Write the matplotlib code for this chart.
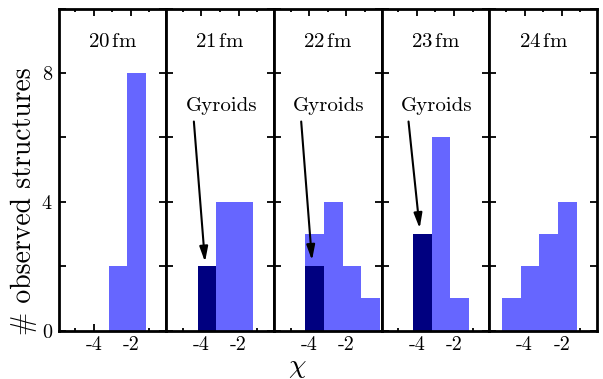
import matplotlib
matplotlib.use('Agg')
import matplotlib.pyplot as plt
import numpy as np

plt.rcParams['font.family'] = ['cmr10', 'DejaVu Serif']
plt.rcParams['mathtext.fontset'] = 'cm'
plt.rcParams['axes.unicode_minus'] = False
plt.rcParams['axes.formatter.use_mathtext'] = True

# ---- data ----
panel_labels = ['20', '21', '22', '23', '24']
bin_edges = [-5.2, -4.2, -3.2, -2.2, -1.2, -0.2]
counts_all = [
    [0, 0, 2, 8, 0],   # 20 fm
    [0, 2, 4, 4, 0],   # 21 fm
    [0, 3, 4, 2, 1],   # 22 fm
    [0, 3, 6, 1, 0],   # 23 fm
    [1, 2, 3, 4, 0],   # 24 fm
]
counts_gyroid = [
    [0, 0, 0, 0, 0],
    [0, 2, 0, 0, 0],
    [0, 2, 0, 0, 0],
    [0, 3, 0, 0, 0],
    [0, 0, 0, 0, 0],
]
has_gyroid_label = [False, True, True, True, False]
arrow_tips = [None, (-3.81, 2.13), (-3.85, 2.18), (-3.85, 3.17), None]
arrow_starts = [None, (-4.41, 6.49), (-4.43, 6.49), (-4.45, 6.49), None]
x_major = [-4, -2]
x_major_labels = ['-4', '-2']
x_minor = [-5, -3, -1]
y_major = [0, 4, 8]
y_minor = [2, 6, 10]

light = '#6666ff'
dark = '#000080'

fig, axes = plt.subplots(1, 5, sharey=True, figsize=(6.03, 3.79), dpi=100)
fig.subplots_adjust(left=58.5 / 603, right=597 / 603, top=1 - 8.5 / 379,
                    bottom=1 - 330.5 / 379, wspace=0)

edges = np.array(bin_edges)
widths = np.diff(edges)
for i, ax in enumerate(axes):
    ax.bar(edges[:-1], counts_all[i], width=widths, align='edge',
           color=light, linewidth=0)
    ax.bar(edges[:-1], counts_gyroid[i], width=widths, align='edge',
           color=dark, linewidth=0)
    ax.set_xlim(-5.9, -0.1)
    ax.set_ylim(0, 10)
    ax.set_xticks(x_major)
    ax.set_xticklabels(x_major_labels)
    ax.set_xticks(x_minor, minor=True)
    ax.set_yticks(y_major)
    ax.set_yticks(y_minor, minor=True)
    ax.set_axisbelow(True)
    ax.tick_params(which='both', direction='in', top=True, right=True,
                   labelsize=14.5, width=1.3, pad=4)
    ax.tick_params(axis='x', which='major', length=5)
    ax.tick_params(axis='x', which='minor', length=2.5)
    ax.tick_params(axis='y', which='both', length=5)
    for sp in ax.spines.values():
        sp.set_linewidth(2.0)
    ax.text(-3.0, 8.8, panel_labels[i] + r'$\,$fm', ha='center',
            va='baseline', fontsize=15)
    if has_gyroid_label[i]:
        ax.text(-2.93, 6.82, 'Gyroids', ha='center', va='baseline',
                fontsize=15)
        ax.annotate('', xy=arrow_tips[i], xytext=arrow_starts[i],
                    arrowprops=dict(arrowstyle='-|>,head_length=0.9,head_width=0.25',
                                    color='black', lw=1.5, shrinkA=0,
                                    shrinkB=0, mutation_scale=10))

for ax in axes[1:]:
    ax.tick_params(labelleft=False)

fig.text(24 / 603, 1 - 201 / 379, '# observed structures', rotation=90,
         ha='center', va='center', fontsize=20)
fig.text(297 / 603, 1 - 367 / 379, r'$\chi$', ha='center', va='center',
         fontsize=20)

fig.savefig('out.png', dpi=100)
